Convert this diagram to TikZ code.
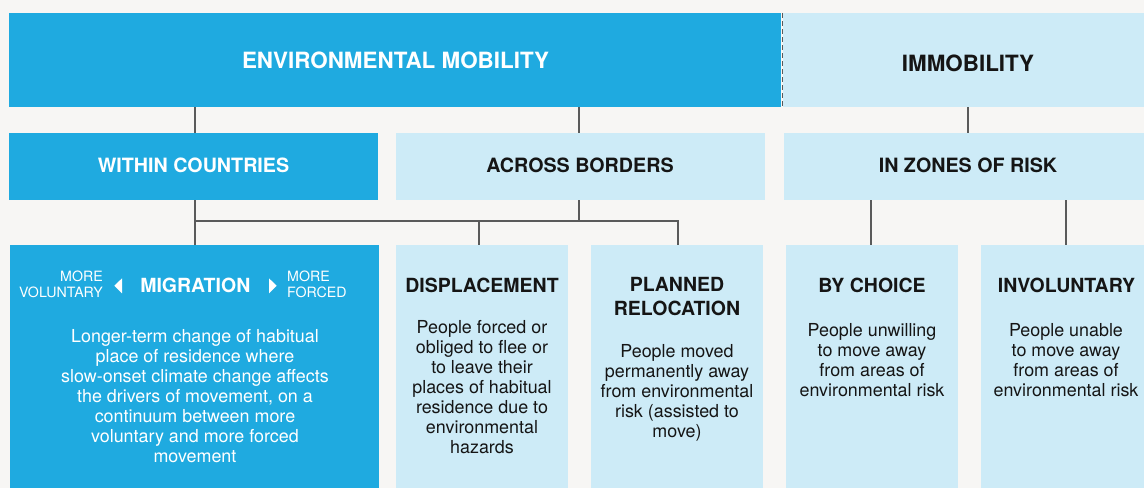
\documentclass[tikz,border=0pt]{standalone}
\usepackage{fontspec}
\setmainfont{TeX Gyre Heros}
\usetikzlibrary{calc}
\definecolor{mobblue}{HTML}{1FAAE0}
\definecolor{paleblue}{HTML}{CDEBF7}
\definecolor{paper}{HTML}{F7F6F4}
\definecolor{linkgray}{HTML}{5A5A5A}
\definecolor{ink}{HTML}{151515}
\begin{document}
\begin{tikzpicture}[x=1pt,y=-1pt,
  panel/.style={anchor=north west, inner sep=0pt, outer sep=0pt},
  darkbox/.style={panel, fill=mobblue},
  lightbox/.style={panel, fill=paleblue},
  link/.style={draw=linkgray, line width=1.3pt},
  divider/.style={draw=linkgray, line width=1pt, dash pattern=on 5pt off 3pt},
  toptitle/.style={font=\fontsize{22.4}{25}\selectfont\bfseries, inner sep=0pt},
  midtitle/.style={font=\fontsize{19.7}{22}\selectfont\bfseries, inner sep=0pt},
  cardtitle/.style={font=\fontsize{19.5}{23.5}\selectfont\bfseries, inner sep=0pt, align=center},
  cardbody/.style={font=\fontsize{17.9}{20}\selectfont, inner sep=0pt, align=center},
  scale label/.style={font=\fontsize{14.2}{16}\selectfont, inner sep=0pt, text=white}
]
% canvas
\useasboundingbox (0,0) rectangle (1144,488);
\fill[paper] (0,0) rectangle (1144,488);

% top level
\node[darkbox, minimum width=772pt, minimum height=94pt] (env) at (9,13) {};
\node[lightbox, minimum width=361pt, minimum height=94pt] (immo) at (783,13) {};
\draw[divider] ($(immo.north west)+(-0.5,0)$) -- ($(immo.south west)+(-0.5,1)$);

% second level
\node[darkbox, minimum width=369pt, minimum height=67pt] (within) at (9,133) {};
\node[lightbox, minimum width=369pt, minimum height=67pt] (across) at (396,133) {};
\node[lightbox, minimum width=360pt, minimum height=67pt] (zones) at (784,133) {};

% third level
\node[darkbox, minimum width=369pt, minimum height=243pt] (migr) at (10,245) {};
\node[lightbox, minimum width=172pt, minimum height=243pt] (displ) at (396,245) {};
\node[lightbox, minimum width=172pt, minimum height=243pt] (reloc) at (591,245) {};
\node[lightbox, minimum width=172pt, minimum height=243pt] (choice) at (786,245) {};
\node[lightbox, minimum width=163pt, minimum height=243pt] (invol) at (981,245) {};

% connector columns and the shared bus
\coordinate (cw) at (195,0);
\coordinate (ca) at (579,0);
\coordinate (ci) at (968,0);
\coordinate (cd) at (479,0);
\coordinate (cr) at (678,0);
\coordinate (cc) at (871,0);
\coordinate (cv) at (1066,0);
\coordinate (busL) at (195,221);
\coordinate (busR) at (678,221);

\draw[link] (env.south -| cw) -- (within.north -| cw);
\draw[link] (env.south -| ca) -- (across.north -| ca);
\draw[link] (immo.south -| ci) -- (zones.north -| ci);
\draw[link] (within.south -| cw) -- (migr.north -| cw);
\draw[link] (across.south -| ca) -- (ca |- busL);
\draw[link] (busL) -- (busR) -- (reloc.north -| cr);
\draw[link] (cd |- busL) -- (displ.north -| cd);
\draw[link] (zones.south -| cc) -- (choice.north -| cc);
\draw[link] (zones.south -| cv) -- (invol.north -| cv);

% titles
\node[toptitle, text=white] (envT) at (395.5,60) {ENVIRONMENTAL MOBILITY};
\node[toptitle, text=ink] (immoT) at (968,63) {IMMOBILITY};
\node[midtitle, text=white] (withinT) at (193.5,165) {WITHIN COUNTRIES};
\node[midtitle, text=ink] (acrossT) at (580,165) {ACROSS BORDERS};
\node[midtitle, text=ink] (zonesT) at (968,165) {IN ZONES OF RISK};

% migration card
\node[cardtitle, text=white] (migrT) at (195.3,285) {MIGRATION};
\node[scale label, anchor=east, align=right] (volL) at (103,284.7) {MORE\\VOLUNTARY};
\node[scale label, anchor=west, align=left] (forL) at (287,284.7) {MORE\\FORCED};
\fill[white] (122,278.3) -- (122,293.3) -- (114.3,285.8) -- cycle;
\fill[white] (269,278.3) -- (269,293.3) -- (276.7,285.8) -- cycle;
\node[cardbody, text=white] (migrB) at (195,396.5) {Longer-term change of habitual\\place of residence where\\slow-onset climate change affects\\the drivers of movement, on a\\continuum between more\\voluntary and more forced\\movement};

% displacement card
\node[cardtitle, text=ink] (displT) at (482,285) {DISPLACEMENT};
\node[cardbody, text=ink] (displB) at (482,386.7) {People forced or\\obliged to flee or\\to leave their\\places of habitual\\residence due to\\environmental\\hazards};

% planned relocation card
\node[cardtitle, text=ink] (relocT) at (677,296.7) {PLANNED\\RELOCATION};
\node[cardbody, text=ink] (relocB) at (677,393.3) {People moved\\permanently away\\from environmental\\risk (assisted to\\move)};

% immobility cards
\node[cardtitle, text=ink] (choiceT) at (872,285) {BY CHOICE};
\node[cardbody, text=ink] (choiceB) at (872,360.5) {People unwilling\\to move away\\from areas of\\environmental risk};
\node[cardtitle, text=ink] (involT) at (1066.5,285) {INVOLUNTARY};
\node[cardbody, text=ink] (involB) at (1066,360.5) {People unable\\to move away\\from areas of\\environmental risk};
\end{tikzpicture}
\end{document}
